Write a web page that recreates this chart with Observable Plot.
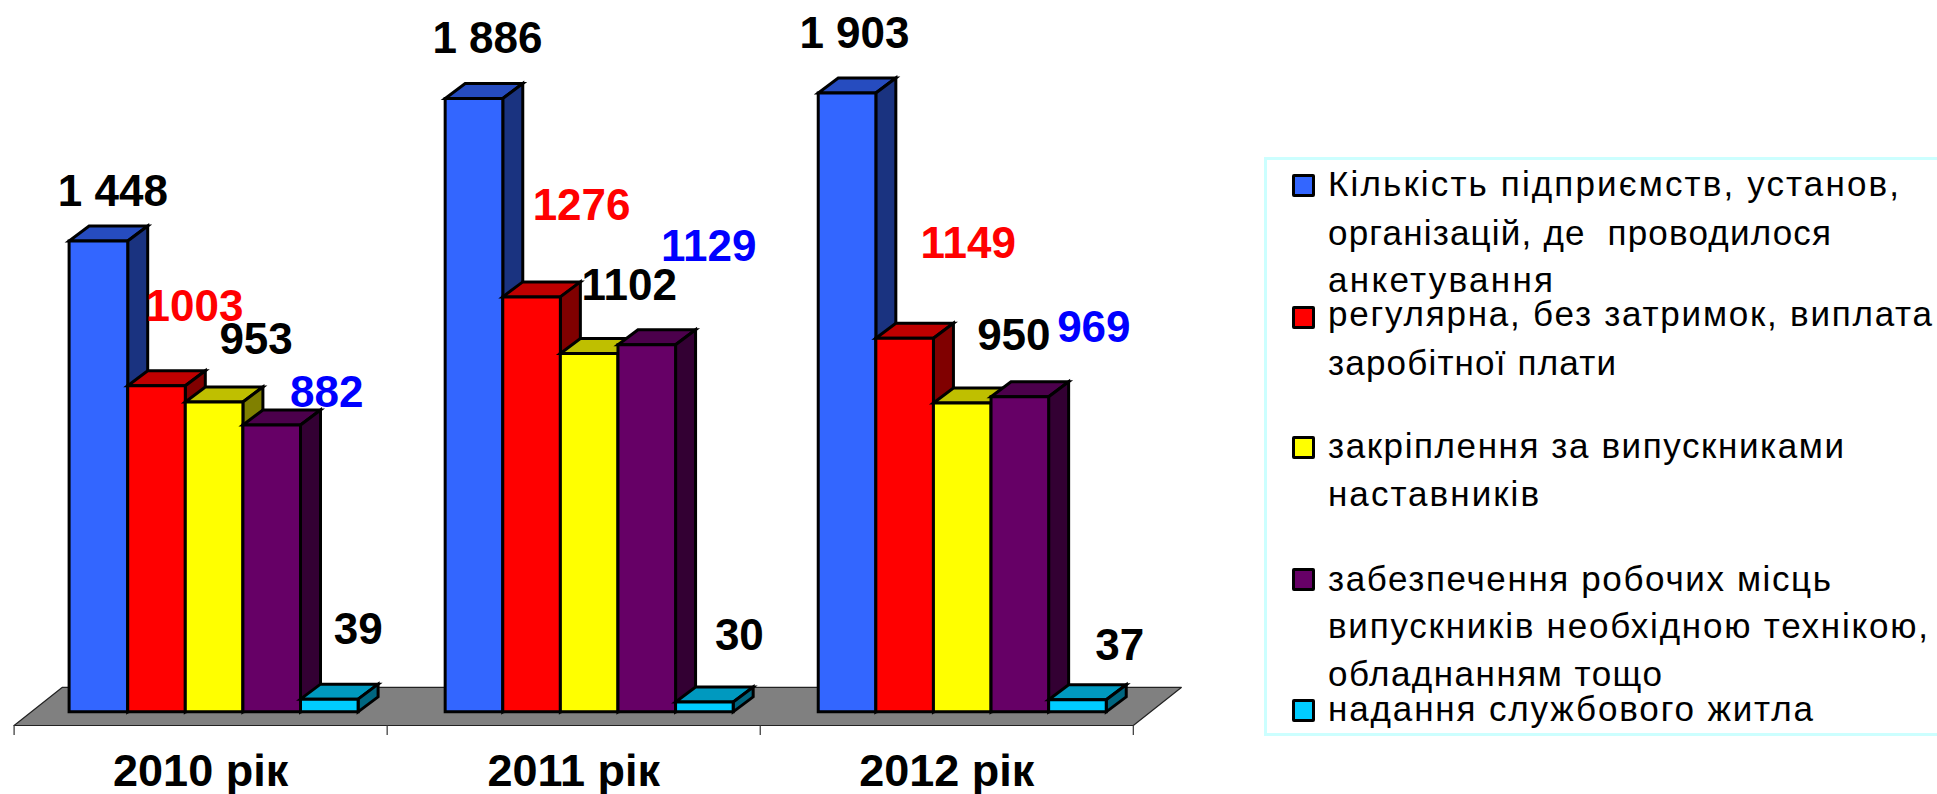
<!DOCTYPE html>
<html lang="uk">
<head>
<meta charset="utf-8">
<script src="https://cdn.jsdelivr.net/npm/d3@7"></script>
<script src="https://cdn.jsdelivr.net/npm/@observablehq/plot@0.6"></script>
<style>
html,body{margin:0;padding:0;background:#fff;overflow:hidden}
#wrap{position:relative;width:1937px;height:794px;font-family:"Liberation Sans",Arial,sans-serif}
#legend{position:absolute;left:1264px;top:157px;width:673px;height:579px;box-sizing:border-box;border:3px solid #CCFFFF;border-right:none}
.ln{position:absolute;left:1328px;white-space:pre;font-size:35px;line-height:36px;color:#000;transform:translateY(-50%)}
.sw{position:absolute;left:1292px;width:23px;height:23px;box-sizing:border-box;border:3px solid #000;border-radius:2px}
</style>
</head>
<body>
<div id="wrap"><div id="legend"></div></div>
<script>
// ---- data ----
const years = ["2010 рік", "2011 рік", "2012 рік"];
const kilkist = [1448, 1886, 1903];
const vyplata = [1003, 1276, 1149];
const nastavnyky = [953, 1102, 950];
const mistsia = [882, 1129, 969];
const zhytlo = [39, 30, 37];

const legendLines = [
  ["Кількість підприємств, установ,", "організацій, де  проводилося", "анкетування"],
  ["регулярна, без затримок, виплата", "заробітної плати"],
  ["закріплення за випускниками", "наставників"],
  ["забезпечення робочих місць", "випускників необхідною технікою,", "обладнанням тощо"],
  ["надання службового житла"]
];

// ---- styles ----
const faces = [
  {front: "#3366FF", top: "#264CBF", side: "#1A3380", label: "#000000"},
  {front: "#FF0000", top: "#BF0000", side: "#800000", label: "#FF0000"},
  {front: "#FFFF00", top: "#BFBF00", side: "#808000", label: "#000000"},
  {front: "#660066", top: "#4C004C", side: "#330033", label: "#0000FF"},
  {front: "#00CCFF", top: "#0099BF", side: "#006680", label: "#000000"}
];

// ---- layout ----
const xRange = [13.6, 1132.8], yRange = [725, 61];
const xDomain = [0, 3], yDomain = [-42, 2000];
const pxX = (xDomain[1] - xDomain[0]) / (xRange[1] - xRange[0]);
const pxY = (yDomain[1] - yDomain[0]) / (yRange[0] - yRange[1]);
const groupStart = 58 * pxX, barW = 57.6 * pxX;
const groupShift = [-2 * pxX, 0, 0];
const depthX = 20 * pxX, depthY = 15 * pxY;
// hand placement of the value labels, pixels from the top-centre of each bar
const labelShiftX = [[12, 36, 40, 53, 27], [13.5, 50, 40, 62, 35], [7.4, 63.5, 51.6, 74, 42.4]];
const labelShiftY = [[-49, -79, -62, -32, -69], [-60, -91, -67.5, -98, -66], [-59, -94, -67.5, -68.6, -54]];

const series = [kilkist, vyplata, nastavnyky, mistsia, zhytlo];
const polys = [], labels = [];
const addPoly = (id, fill, pts) => pts.forEach(([x, y]) => polys.push({id, fill, x, y}));

years.forEach((yr, g) => {
  series.forEach((vals, s) => {
    const v = vals[g];
    const start = g + groupStart + groupShift[g];
    const x0 = start + s * barW - (g === 0 && s === 0 ? pxX : 0), x1 = start + (s + 1) * barW;
    const c = faces[s], id = g + "-" + s;
    addPoly(id + "t", c.top, [[x0, v], [x1, v], [x1 + depthX, v + depthY], [x0 + depthX, v + depthY]]);
    addPoly(id + "s", c.side, [[x1, 0], [x1, v], [x1 + depthX, v + depthY], [x1 + depthX, depthY]]);
    addPoly(id + "f", c.front, [[x0, 0], [x1, 0], [x1, v], [x0, v]]);
    labels.push({
      x: g + groupStart + (s + 0.5) * barW + labelShiftX[g][s] * pxX,
      y: v - labelShiftY[g][s] * pxY,
      fill: c.label,
      text: String(v).replace(/(\d)(\d{3})$/, s === 0 ? "$1 $2" : "$1$2")
    });
  });
});

const floorPts = [
  {x: 0, y: -42}, {x: 3, y: -42},
  {x: 3 + 48 * pxX, y: 75}, {x: 48 * pxX, y: 75}
];

const font = '"Liberation Sans", Arial, sans-serif';
const chart = Plot.plot({
  width: 1937, height: 794,
  marginLeft: 0, marginRight: 0, marginTop: 0, marginBottom: 69,
  style: {background: "transparent", fontFamily: font, overflow: "visible"},
  x: {domain: xDomain, range: xRange},
  y: {domain: yDomain, range: yRange, axis: null},
  color: {type: "identity"},
  marks: [
    Plot.line(floorPts, {x: "x", y: "y", curve: "linear-closed", fill: "#808080", stroke: "#222", strokeWidth: 1.2}),
    Plot.axisX({ticks: [0, 1, 2, 3], tickSize: 10, tickFormat: () => "", label: null, stroke: "#333", strokeWidth: 1.2}),
    Plot.axisX({ticks: [0.5, 1.5, 2.5], tickSize: 0, tickPadding: 29, tickFormat: d => years[Math.floor(d)], label: null,
      fontSize: 45, fontWeight: "bold", fill: "#000", lineAnchor: "top"}),
    Plot.line(polys, {x: "x", y: "y", z: "id", fill: "fill", stroke: "#000", strokeWidth: 3,
      curve: "linear-closed", strokeLinejoin: "miter", strokeMiterlimit: 4}),
    Plot.text(labels, {x: "x", y: "y", text: "text", fill: "fill", fontSize: 44, fontWeight: "bold", fontFamily: font})
  ]
});
document.getElementById("wrap").prepend(chart);

// ---- legend ----
const legendCentres = [[184, 233, 280], [314, 363], [446, 494], [579, 626, 674], [709]];
const legendWidths = [[571, 503, 225], [604, 288], [516, 211], [503, 600, 334], [485]];
const swatchTops = [174, 306, 436, 568, 699];
const wrap = document.getElementById("wrap");
legendLines.forEach((ls, i) => {
  const sw = document.createElement("div");
  sw.className = "sw";
  sw.style.top = swatchTops[i] + "px";
  sw.style.background = faces[i].front;
  wrap.append(sw);
  ls.forEach((t, j) => {
    const d = document.createElement("div");
    d.className = "ln";
    d.textContent = t;
    d.style.top = legendCentres[i][j] + "px";
    wrap.append(d);
    const natural = d.getBoundingClientRect().width;
    d.style.letterSpacing = ((legendWidths[i][j] - natural) / (t.length - 1)).toFixed(3) + "px";
  });
});
</script>
</body>
</html>
